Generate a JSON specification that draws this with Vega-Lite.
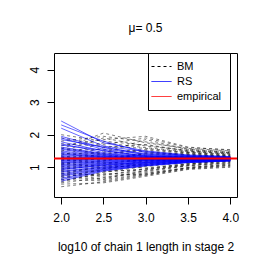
{
"$schema":"https://vega.github.io/schema/vega-lite/v6.json",
"autosize":{"type":"none"},
"padding":{"left":54,"top":53,"right":29,"bottom":69},
"width":183,"height":144,
"background":"white",
"title":{"text":"μ= 0.5","fontSize":12,"font":"Liberation Sans","fontWeight":"normal","color":"black","anchor":"middle","baseline":"alphabetic","offset":9},
"config":{"view":{"stroke":"black","strokeWidth":1},
"axis":{"grid":false,"domain":false,"tickColor":"black","tickSize":7,"labelFont":"Liberation Sans","labelFontSize":12,"labelColor":"black","titleFont":"Liberation Sans","titleFontSize":12,"titleFontWeight":"normal","titleColor":"black"},
"legend":{"labelFont":"Liberation Sans","labelFontSize":11,"labelColor":"black"}},
"datasets":{"emp":[{"s":"empirical","y":1.27}]},
"data":{"values":[
{"s":"BM","id":"b1","x":2,"y":0.40},{"s":"BM","id":"b1","x":2.5,"y":0.55},{"s":"BM","id":"b1","x":3,"y":0.75},{"s":"BM","id":"b1","x":3.5,"y":0.95},{"s":"BM","id":"b1","x":4,"y":1.02},
{"s":"BM","id":"b2","x":2,"y":0.48},{"s":"BM","id":"b2","x":2.5,"y":0.52},{"s":"BM","id":"b2","x":3,"y":0.72},{"s":"BM","id":"b2","x":3.5,"y":0.93},{"s":"BM","id":"b2","x":4,"y":1.00},
{"s":"BM","id":"b3","x":2,"y":0.55},{"s":"BM","id":"b3","x":2.5,"y":0.85},{"s":"BM","id":"b3","x":3,"y":1.02},{"s":"BM","id":"b3","x":3.5,"y":1.15},{"s":"BM","id":"b3","x":4,"y":1.20},
{"s":"BM","id":"b4","x":2,"y":0.60},{"s":"BM","id":"b4","x":2.5,"y":0.78},{"s":"BM","id":"b4","x":3,"y":0.88},{"s":"BM","id":"b4","x":3.5,"y":1.08},{"s":"BM","id":"b4","x":4,"y":1.18},
{"s":"BM","id":"b5","x":2,"y":0.66},{"s":"BM","id":"b5","x":2.5,"y":0.95},{"s":"BM","id":"b5","x":3,"y":1.10},{"s":"BM","id":"b5","x":3.5,"y":1.22},{"s":"BM","id":"b5","x":4,"y":1.25},
{"s":"BM","id":"b6","x":2,"y":0.70},{"s":"BM","id":"b6","x":2.5,"y":0.62},{"s":"BM","id":"b6","x":3,"y":0.80},{"s":"BM","id":"b6","x":3.5,"y":1.00},{"s":"BM","id":"b6","x":4,"y":1.08},
{"s":"BM","id":"b7","x":2,"y":0.74},{"s":"BM","id":"b7","x":2.5,"y":0.90},{"s":"BM","id":"b7","x":3,"y":1.05},{"s":"BM","id":"b7","x":3.5,"y":1.18},{"s":"BM","id":"b7","x":4,"y":1.22},
{"s":"BM","id":"b8","x":2,"y":0.78},{"s":"BM","id":"b8","x":2.5,"y":1.05},{"s":"BM","id":"b8","x":3,"y":1.15},{"s":"BM","id":"b8","x":3.5,"y":1.28},{"s":"BM","id":"b8","x":4,"y":1.30},
{"s":"BM","id":"b9","x":2,"y":0.82},{"s":"BM","id":"b9","x":2.5,"y":0.75},{"s":"BM","id":"b9","x":3,"y":0.95},{"s":"BM","id":"b9","x":3.5,"y":1.12},{"s":"BM","id":"b9","x":4,"y":1.20},
{"s":"BM","id":"b10","x":2,"y":0.85},{"s":"BM","id":"b10","x":2.5,"y":1.00},{"s":"BM","id":"b10","x":3,"y":1.20},{"s":"BM","id":"b10","x":3.5,"y":1.25},{"s":"BM","id":"b10","x":4,"y":1.28},
{"s":"BM","id":"b11","x":2,"y":0.88},{"s":"BM","id":"b11","x":2.5,"y":0.70},{"s":"BM","id":"b11","x":3,"y":0.85},{"s":"BM","id":"b11","x":3.5,"y":1.05},{"s":"BM","id":"b11","x":4,"y":1.15},
{"s":"BM","id":"b12","x":2,"y":0.92},{"s":"BM","id":"b12","x":2.5,"y":1.10},{"s":"BM","id":"b12","x":3,"y":1.25},{"s":"BM","id":"b12","x":3.5,"y":1.30},{"s":"BM","id":"b12","x":4,"y":1.27},
{"s":"BM","id":"b13","x":2,"y":0.95},{"s":"BM","id":"b13","x":2.5,"y":1.15},{"s":"BM","id":"b13","x":3,"y":1.05},{"s":"BM","id":"b13","x":3.5,"y":1.20},{"s":"BM","id":"b13","x":4,"y":1.24},
{"s":"BM","id":"b14","x":2,"y":0.98},{"s":"BM","id":"b14","x":2.5,"y":0.88},{"s":"BM","id":"b14","x":3,"y":0.92},{"s":"BM","id":"b14","x":3.5,"y":1.10},{"s":"BM","id":"b14","x":4,"y":1.22},
{"s":"BM","id":"b15","x":2,"y":1.00},{"s":"BM","id":"b15","x":2.5,"y":1.22},{"s":"BM","id":"b15","x":3,"y":1.32},{"s":"BM","id":"b15","x":3.5,"y":1.35},{"s":"BM","id":"b15","x":4,"y":1.30},
{"s":"BM","id":"b16","x":2,"y":1.03},{"s":"BM","id":"b16","x":2.5,"y":0.95},{"s":"BM","id":"b16","x":3,"y":1.12},{"s":"BM","id":"b16","x":3.5,"y":1.24},{"s":"BM","id":"b16","x":4,"y":1.26},
{"s":"BM","id":"b17","x":2,"y":1.06},{"s":"BM","id":"b17","x":2.5,"y":1.30},{"s":"BM","id":"b17","x":3,"y":1.40},{"s":"BM","id":"b17","x":3.5,"y":1.38},{"s":"BM","id":"b17","x":4,"y":1.32},
{"s":"BM","id":"b18","x":2,"y":1.08},{"s":"BM","id":"b18","x":2.5,"y":1.05},{"s":"BM","id":"b18","x":3,"y":0.98},{"s":"BM","id":"b18","x":3.5,"y":1.10},{"s":"BM","id":"b18","x":4,"y":1.18},
{"s":"BM","id":"b19","x":2,"y":1.10},{"s":"BM","id":"b19","x":2.5,"y":1.35},{"s":"BM","id":"b19","x":3,"y":1.28},{"s":"BM","id":"b19","x":3.5,"y":1.30},{"s":"BM","id":"b19","x":4,"y":1.29},
{"s":"BM","id":"b20","x":2,"y":1.12},{"s":"BM","id":"b20","x":2.5,"y":1.18},{"s":"BM","id":"b20","x":3,"y":1.45},{"s":"BM","id":"b20","x":3.5,"y":1.42},{"s":"BM","id":"b20","x":4,"y":1.35},
{"s":"BM","id":"b21","x":2,"y":1.15},{"s":"BM","id":"b21","x":2.5,"y":0.98},{"s":"BM","id":"b21","x":3,"y":1.08},{"s":"BM","id":"b21","x":3.5,"y":1.20},{"s":"BM","id":"b21","x":4,"y":1.25},
{"s":"BM","id":"b22","x":2,"y":1.18},{"s":"BM","id":"b22","x":2.5,"y":1.42},{"s":"BM","id":"b22","x":3,"y":1.55},{"s":"BM","id":"b22","x":3.5,"y":1.45},{"s":"BM","id":"b22","x":4,"y":1.38},
{"s":"BM","id":"b23","x":2,"y":1.20},{"s":"BM","id":"b23","x":2.5,"y":1.25},{"s":"BM","id":"b23","x":3,"y":1.18},{"s":"BM","id":"b23","x":3.5,"y":1.26},{"s":"BM","id":"b23","x":4,"y":1.28},
{"s":"BM","id":"b24","x":2,"y":1.22},{"s":"BM","id":"b24","x":2.5,"y":1.50},{"s":"BM","id":"b24","x":3,"y":1.35},{"s":"BM","id":"b24","x":3.5,"y":1.32},{"s":"BM","id":"b24","x":4,"y":1.30},
{"s":"BM","id":"b25","x":2,"y":1.25},{"s":"BM","id":"b25","x":2.5,"y":1.12},{"s":"BM","id":"b25","x":3,"y":1.22},{"s":"BM","id":"b25","x":3.5,"y":1.28},{"s":"BM","id":"b25","x":4,"y":1.27},
{"s":"BM","id":"b26","x":2,"y":1.28},{"s":"BM","id":"b26","x":2.5,"y":1.60},{"s":"BM","id":"b26","x":3,"y":1.70},{"s":"BM","id":"b26","x":3.5,"y":1.50},{"s":"BM","id":"b26","x":4,"y":1.40},
{"s":"BM","id":"b27","x":2,"y":1.30},{"s":"BM","id":"b27","x":2.5,"y":1.38},{"s":"BM","id":"b27","x":3,"y":1.30},{"s":"BM","id":"b27","x":3.5,"y":1.34},{"s":"BM","id":"b27","x":4,"y":1.31},
{"s":"BM","id":"b28","x":2,"y":1.33},{"s":"BM","id":"b28","x":2.5,"y":1.20},{"s":"BM","id":"b28","x":3,"y":1.42},{"s":"BM","id":"b28","x":3.5,"y":1.40},{"s":"BM","id":"b28","x":4,"y":1.33},
{"s":"BM","id":"b29","x":2,"y":1.36},{"s":"BM","id":"b29","x":2.5,"y":1.75},{"s":"BM","id":"b29","x":3,"y":1.60},{"s":"BM","id":"b29","x":3.5,"y":1.48},{"s":"BM","id":"b29","x":4,"y":1.42},
{"s":"BM","id":"b30","x":2,"y":1.40},{"s":"BM","id":"b30","x":2.5,"y":1.45},{"s":"BM","id":"b30","x":3,"y":1.85},{"s":"BM","id":"b30","x":3.5,"y":1.55},{"s":"BM","id":"b30","x":4,"y":1.45},
{"s":"BM","id":"b31","x":2,"y":1.44},{"s":"BM","id":"b31","x":2.5,"y":1.30},{"s":"BM","id":"b31","x":3,"y":1.25},{"s":"BM","id":"b31","x":3.5,"y":1.30},{"s":"BM","id":"b31","x":4,"y":1.29},
{"s":"BM","id":"b32","x":2,"y":1.48},{"s":"BM","id":"b32","x":2.5,"y":1.90},{"s":"BM","id":"b32","x":3,"y":1.65},{"s":"BM","id":"b32","x":3.5,"y":1.52},{"s":"BM","id":"b32","x":4,"y":1.44},
{"s":"BM","id":"b33","x":2,"y":1.52},{"s":"BM","id":"b33","x":2.5,"y":1.55},{"s":"BM","id":"b33","x":3,"y":1.48},{"s":"BM","id":"b33","x":3.5,"y":1.38},{"s":"BM","id":"b33","x":4,"y":1.34},
{"s":"BM","id":"b34","x":2,"y":1.56},{"s":"BM","id":"b34","x":2.5,"y":2.05},{"s":"BM","id":"b34","x":3,"y":1.75},{"s":"BM","id":"b34","x":3.5,"y":1.58},{"s":"BM","id":"b34","x":4,"y":1.50},
{"s":"BM","id":"b35","x":2,"y":1.60},{"s":"BM","id":"b35","x":2.5,"y":1.40},{"s":"BM","id":"b35","x":3,"y":1.52},{"s":"BM","id":"b35","x":3.5,"y":1.44},{"s":"BM","id":"b35","x":4,"y":1.36},
{"s":"BM","id":"b36","x":2,"y":1.66},{"s":"BM","id":"b36","x":2.5,"y":1.85},{"s":"BM","id":"b36","x":3,"y":1.95},{"s":"BM","id":"b36","x":3.5,"y":1.62},{"s":"BM","id":"b36","x":4,"y":1.52},
{"s":"BM","id":"b37","x":2,"y":1.72},{"s":"BM","id":"b37","x":2.5,"y":1.65},{"s":"BM","id":"b37","x":3,"y":1.58},{"s":"BM","id":"b37","x":3.5,"y":1.46},{"s":"BM","id":"b37","x":4,"y":1.40},
{"s":"BM","id":"b38","x":2,"y":1.80},{"s":"BM","id":"b38","x":2.5,"y":1.95},{"s":"BM","id":"b38","x":3,"y":1.78},{"s":"BM","id":"b38","x":3.5,"y":1.55},{"s":"BM","id":"b38","x":4,"y":1.48},
{"s":"BM","id":"b39","x":2,"y":1.90},{"s":"BM","id":"b39","x":2.5,"y":1.70},{"s":"BM","id":"b39","x":3,"y":1.90},{"s":"BM","id":"b39","x":3.5,"y":1.60},{"s":"BM","id":"b39","x":4,"y":1.54},
{"s":"BM","id":"b40","x":2,"y":2.00},{"s":"BM","id":"b40","x":2.5,"y":1.80},{"s":"BM","id":"b40","x":3,"y":1.68},{"s":"BM","id":"b40","x":3.5,"y":1.50},{"s":"BM","id":"b40","x":4,"y":1.45},
{"s":"BM","id":"b41","x":2,"y":0.52},{"s":"BM","id":"b41","x":2.5,"y":0.68},{"s":"BM","id":"b41","x":3,"y":0.82},{"s":"BM","id":"b41","x":3.5,"y":0.98},{"s":"BM","id":"b41","x":4,"y":1.05},
{"s":"BM","id":"b42","x":2,"y":0.62},{"s":"BM","id":"b42","x":2.5,"y":0.58},{"s":"BM","id":"b42","x":3,"y":0.78},{"s":"BM","id":"b42","x":3.5,"y":0.96},{"s":"BM","id":"b42","x":4,"y":1.06},
{"s":"BM","id":"b43","x":2,"y":0.72},{"s":"BM","id":"b43","x":2.5,"y":0.80},{"s":"BM","id":"b43","x":3,"y":0.76},{"s":"BM","id":"b43","x":3.5,"y":0.99},{"s":"BM","id":"b43","x":4,"y":1.10},
{"s":"BM","id":"b44","x":2,"y":0.80},{"s":"BM","id":"b44","x":2.5,"y":0.64},{"s":"BM","id":"b44","x":3,"y":0.90},{"s":"BM","id":"b44","x":3.5,"y":1.04},{"s":"BM","id":"b44","x":4,"y":1.12},
{"s":"BM","id":"b45","x":2,"y":0.90},{"s":"BM","id":"b45","x":2.5,"y":0.85},{"s":"BM","id":"b45","x":3,"y":0.95},{"s":"BM","id":"b45","x":3.5,"y":1.06},{"s":"BM","id":"b45","x":4,"y":1.14},
{"s":"RS","id":"r1","x":2,"y":2.42},{"s":"RS","id":"r1","x":2.5,"y":1.75},{"s":"RS","id":"r1","x":3,"y":1.50},{"s":"RS","id":"r1","x":3.5,"y":1.38},{"s":"RS","id":"r1","x":4,"y":1.33},
{"s":"RS","id":"r2","x":2,"y":2.30},{"s":"RS","id":"r2","x":2.5,"y":1.80},{"s":"RS","id":"r2","x":3,"y":1.45},{"s":"RS","id":"r2","x":3.5,"y":1.36},{"s":"RS","id":"r2","x":4,"y":1.32},
{"s":"RS","id":"r3","x":2,"y":2.20},{"s":"RS","id":"r3","x":2.5,"y":1.65},{"s":"RS","id":"r3","x":3,"y":1.48},{"s":"RS","id":"r3","x":3.5,"y":1.35},{"s":"RS","id":"r3","x":4,"y":1.31},
{"s":"RS","id":"r4","x":2,"y":1.95},{"s":"RS","id":"r4","x":2.5,"y":1.60},{"s":"RS","id":"r4","x":3,"y":1.42},{"s":"RS","id":"r4","x":3.5,"y":1.34},{"s":"RS","id":"r4","x":4,"y":1.30},
{"s":"RS","id":"r5","x":2,"y":1.90},{"s":"RS","id":"r5","x":2.5,"y":1.55},{"s":"RS","id":"r5","x":3,"y":1.40},{"s":"RS","id":"r5","x":3.5,"y":1.33},{"s":"RS","id":"r5","x":4,"y":1.30},
{"s":"RS","id":"r6","x":2,"y":1.85},{"s":"RS","id":"r6","x":2.5,"y":1.62},{"s":"RS","id":"r6","x":3,"y":1.38},{"s":"RS","id":"r6","x":3.5,"y":1.32},{"s":"RS","id":"r6","x":4,"y":1.29},
{"s":"RS","id":"r7","x":2,"y":1.78},{"s":"RS","id":"r7","x":2.5,"y":1.50},{"s":"RS","id":"r7","x":3,"y":1.36},{"s":"RS","id":"r7","x":3.5,"y":1.31},{"s":"RS","id":"r7","x":4,"y":1.29},
{"s":"RS","id":"r8","x":2,"y":1.72},{"s":"RS","id":"r8","x":2.5,"y":1.45},{"s":"RS","id":"r8","x":3,"y":1.35},{"s":"RS","id":"r8","x":3.5,"y":1.30},{"s":"RS","id":"r8","x":4,"y":1.29},
{"s":"RS","id":"r9","x":2,"y":1.68},{"s":"RS","id":"r9","x":2.5,"y":1.52},{"s":"RS","id":"r9","x":3,"y":1.33},{"s":"RS","id":"r9","x":3.5,"y":1.31},{"s":"RS","id":"r9","x":4,"y":1.28},
{"s":"RS","id":"r10","x":2,"y":1.62},{"s":"RS","id":"r10","x":2.5,"y":1.42},{"s":"RS","id":"r10","x":3,"y":1.32},{"s":"RS","id":"r10","x":3.5,"y":1.29},{"s":"RS","id":"r10","x":4,"y":1.28},
{"s":"RS","id":"r11","x":2,"y":1.58},{"s":"RS","id":"r11","x":2.5,"y":1.40},{"s":"RS","id":"r11","x":3,"y":1.34},{"s":"RS","id":"r11","x":3.5,"y":1.30},{"s":"RS","id":"r11","x":4,"y":1.28},
{"s":"RS","id":"r12","x":2,"y":1.55},{"s":"RS","id":"r12","x":2.5,"y":1.38},{"s":"RS","id":"r12","x":3,"y":1.30},{"s":"RS","id":"r12","x":3.5,"y":1.29},{"s":"RS","id":"r12","x":4,"y":1.27},
{"s":"RS","id":"r13","x":2,"y":1.50},{"s":"RS","id":"r13","x":2.5,"y":1.36},{"s":"RS","id":"r13","x":3,"y":1.31},{"s":"RS","id":"r13","x":3.5,"y":1.28},{"s":"RS","id":"r13","x":4,"y":1.27},
{"s":"RS","id":"r14","x":2,"y":1.46},{"s":"RS","id":"r14","x":2.5,"y":1.34},{"s":"RS","id":"r14","x":3,"y":1.29},{"s":"RS","id":"r14","x":3.5,"y":1.28},{"s":"RS","id":"r14","x":4,"y":1.27},
{"s":"RS","id":"r15","x":2,"y":1.42},{"s":"RS","id":"r15","x":2.5,"y":1.33},{"s":"RS","id":"r15","x":3,"y":1.30},{"s":"RS","id":"r15","x":3.5,"y":1.27},{"s":"RS","id":"r15","x":4,"y":1.27},
{"s":"RS","id":"r16","x":2,"y":1.40},{"s":"RS","id":"r16","x":2.5,"y":1.30},{"s":"RS","id":"r16","x":3,"y":1.28},{"s":"RS","id":"r16","x":3.5,"y":1.27},{"s":"RS","id":"r16","x":4,"y":1.26},
{"s":"RS","id":"r17","x":2,"y":1.36},{"s":"RS","id":"r17","x":2.5,"y":1.32},{"s":"RS","id":"r17","x":3,"y":1.27},{"s":"RS","id":"r17","x":3.5,"y":1.27},{"s":"RS","id":"r17","x":4,"y":1.26},
{"s":"RS","id":"r18","x":2,"y":1.33},{"s":"RS","id":"r18","x":2.5,"y":1.28},{"s":"RS","id":"r18","x":3,"y":1.27},{"s":"RS","id":"r18","x":3.5,"y":1.26},{"s":"RS","id":"r18","x":4,"y":1.26},
{"s":"RS","id":"r19","x":2,"y":1.30},{"s":"RS","id":"r19","x":2.5,"y":1.27},{"s":"RS","id":"r19","x":3,"y":1.26},{"s":"RS","id":"r19","x":3.5,"y":1.26},{"s":"RS","id":"r19","x":4,"y":1.26},
{"s":"RS","id":"r20","x":2,"y":1.28},{"s":"RS","id":"r20","x":2.5,"y":1.29},{"s":"RS","id":"r20","x":3,"y":1.27},{"s":"RS","id":"r20","x":3.5,"y":1.26},{"s":"RS","id":"r20","x":4,"y":1.26},
{"s":"RS","id":"r21","x":2,"y":1.25},{"s":"RS","id":"r21","x":2.5,"y":1.24},{"s":"RS","id":"r21","x":3,"y":1.25},{"s":"RS","id":"r21","x":3.5,"y":1.25},{"s":"RS","id":"r21","x":4,"y":1.26},
{"s":"RS","id":"r22","x":2,"y":1.22},{"s":"RS","id":"r22","x":2.5,"y":1.26},{"s":"RS","id":"r22","x":3,"y":1.24},{"s":"RS","id":"r22","x":3.5,"y":1.25},{"s":"RS","id":"r22","x":4,"y":1.25},
{"s":"RS","id":"r23","x":2,"y":1.20},{"s":"RS","id":"r23","x":2.5,"y":1.22},{"s":"RS","id":"r23","x":3,"y":1.23},{"s":"RS","id":"r23","x":3.5,"y":1.24},{"s":"RS","id":"r23","x":4,"y":1.25},
{"s":"RS","id":"r24","x":2,"y":1.17},{"s":"RS","id":"r24","x":2.5,"y":1.20},{"s":"RS","id":"r24","x":3,"y":1.24},{"s":"RS","id":"r24","x":3.5,"y":1.24},{"s":"RS","id":"r24","x":4,"y":1.25},
{"s":"RS","id":"r25","x":2,"y":1.14},{"s":"RS","id":"r25","x":2.5,"y":1.18},{"s":"RS","id":"r25","x":3,"y":1.21},{"s":"RS","id":"r25","x":3.5,"y":1.23},{"s":"RS","id":"r25","x":4,"y":1.25},
{"s":"RS","id":"r26","x":2,"y":1.12},{"s":"RS","id":"r26","x":2.5,"y":1.16},{"s":"RS","id":"r26","x":3,"y":1.22},{"s":"RS","id":"r26","x":3.5,"y":1.23},{"s":"RS","id":"r26","x":4,"y":1.24},
{"s":"RS","id":"r27","x":2,"y":1.08},{"s":"RS","id":"r27","x":2.5,"y":1.14},{"s":"RS","id":"r27","x":3,"y":1.19},{"s":"RS","id":"r27","x":3.5,"y":1.22},{"s":"RS","id":"r27","x":4,"y":1.24},
{"s":"RS","id":"r28","x":2,"y":1.05},{"s":"RS","id":"r28","x":2.5,"y":1.12},{"s":"RS","id":"r28","x":3,"y":1.20},{"s":"RS","id":"r28","x":3.5,"y":1.22},{"s":"RS","id":"r28","x":4,"y":1.24},
{"s":"RS","id":"r29","x":2,"y":1.02},{"s":"RS","id":"r29","x":2.5,"y":1.10},{"s":"RS","id":"r29","x":3,"y":1.17},{"s":"RS","id":"r29","x":3.5,"y":1.21},{"s":"RS","id":"r29","x":4,"y":1.23},
{"s":"RS","id":"r30","x":2,"y":0.98},{"s":"RS","id":"r30","x":2.5,"y":1.08},{"s":"RS","id":"r30","x":3,"y":1.16},{"s":"RS","id":"r30","x":3.5,"y":1.21},{"s":"RS","id":"r30","x":4,"y":1.23},
{"s":"RS","id":"r31","x":2,"y":0.95},{"s":"RS","id":"r31","x":2.5,"y":1.05},{"s":"RS","id":"r31","x":3,"y":1.15},{"s":"RS","id":"r31","x":3.5,"y":1.20},{"s":"RS","id":"r31","x":4,"y":1.23},
{"s":"RS","id":"r32","x":2,"y":0.92},{"s":"RS","id":"r32","x":2.5,"y":1.07},{"s":"RS","id":"r32","x":3,"y":1.14},{"s":"RS","id":"r32","x":3.5,"y":1.19},{"s":"RS","id":"r32","x":4,"y":1.22},
{"s":"RS","id":"r33","x":2,"y":0.88},{"s":"RS","id":"r33","x":2.5,"y":1.02},{"s":"RS","id":"r33","x":3,"y":1.12},{"s":"RS","id":"r33","x":3.5,"y":1.19},{"s":"RS","id":"r33","x":4,"y":1.22},
{"s":"RS","id":"r34","x":2,"y":0.85},{"s":"RS","id":"r34","x":2.5,"y":1.00},{"s":"RS","id":"r34","x":3,"y":1.13},{"s":"RS","id":"r34","x":3.5,"y":1.18},{"s":"RS","id":"r34","x":4,"y":1.22},
{"s":"RS","id":"r35","x":2,"y":0.80},{"s":"RS","id":"r35","x":2.5,"y":0.98},{"s":"RS","id":"r35","x":3,"y":1.10},{"s":"RS","id":"r35","x":3.5,"y":1.17},{"s":"RS","id":"r35","x":4,"y":1.21},
{"s":"RS","id":"r36","x":2,"y":0.76},{"s":"RS","id":"r36","x":2.5,"y":0.96},{"s":"RS","id":"r36","x":3,"y":1.09},{"s":"RS","id":"r36","x":3.5,"y":1.17},{"s":"RS","id":"r36","x":4,"y":1.21},
{"s":"RS","id":"r37","x":2,"y":0.72},{"s":"RS","id":"r37","x":2.5,"y":0.94},{"s":"RS","id":"r37","x":3,"y":1.08},{"s":"RS","id":"r37","x":3.5,"y":1.16},{"s":"RS","id":"r37","x":4,"y":1.20},
{"s":"RS","id":"r38","x":2,"y":0.66},{"s":"RS","id":"r38","x":2.5,"y":0.92},{"s":"RS","id":"r38","x":3,"y":1.06},{"s":"RS","id":"r38","x":3.5,"y":1.15},{"s":"RS","id":"r38","x":4,"y":1.20},
{"s":"RS","id":"r39","x":2,"y":0.62},{"s":"RS","id":"r39","x":2.5,"y":0.90},{"s":"RS","id":"r39","x":3,"y":1.05},{"s":"RS","id":"r39","x":3.5,"y":1.15},{"s":"RS","id":"r39","x":4,"y":1.19},
{"s":"RS","id":"r40","x":2,"y":0.57},{"s":"RS","id":"r40","x":2.5,"y":0.88},{"s":"RS","id":"r40","x":3,"y":1.04},{"s":"RS","id":"r40","x":3.5,"y":1.14},{"s":"RS","id":"r40","x":4,"y":1.19}
]},
"encoding":{
"x":{"field":"x","type":"quantitative","scale":{"domain":[1.915,4.08],"nice":false,"zero":false},"axis":{"values":[2,2.5,3,3.5,4],"format":".1f","title":"log10 of chain 1 length in stage 2","labelBaseline":"alphabetic","labelPadding":17,"titleBaseline":"alphabetic","titleY":53,"labelFlush":false}},
"y":{"field":"y","type":"quantitative","scale":{"domain":[0.085,4.51],"nice":false,"zero":false},"axis":{"values":[1,2,3,4],"title":null,"labelAngle":-90,"labelAlign":"center","labelBaseline":"alphabetic","labelPadding":9,"labelFlush":false}},
"color":{"field":"s","type":"nominal","scale":{"domain":["BM","RS","empirical"],"range":["black","blue","red"]},"legend":{"title":null,"orient":"none","legendX":94,"legendY":0,"symbolType":"M-2,0H2","symbolSize":100,"symbolStrokeWidth":1,"labelOffset":10,"padding":8,"strokeColor":"black","fillColor":"white","rowPadding":3,"cornerRadius":0,"encode":{"symbols":{"update":{"strokeDash":[{"test":"datum.value==='BM'","value":[3,3]},{"value":[1,0]}],"opacity":{"value":1}}}}}}
},
"layer":[
{"transform":[{"filter":"datum.s==='BM'"}],"mark":{"type":"line","strokeWidth":1,"strokeOpacity":0.5,"strokeDash":[3,3]},"encoding":{"detail":{"field":"id"}}},
{"transform":[{"filter":"datum.s==='RS'"}],"mark":{"type":"line","strokeWidth":1,"strokeOpacity":0.6},"encoding":{"detail":{"field":"id"}}},
{"data":{"name":"emp"},"mark":{"type":"rule","strokeWidth":2},"encoding":{"x":null,"y":{"field":"y","type":"quantitative"}}}
]
}
